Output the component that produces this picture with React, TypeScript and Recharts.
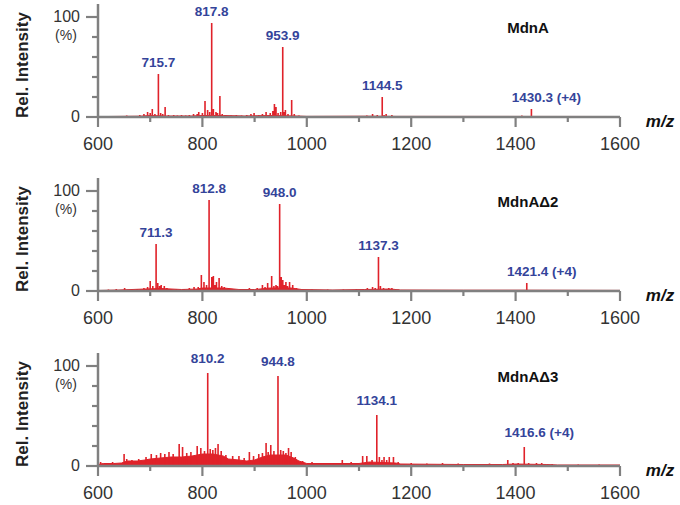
import React from 'react';
import { ComposedChart, Line, Area, Scatter, XAxis, YAxis } from 'recharts';

type Pair = [number, number];

const xTicks = [600, 700, 800, 900, 1000, 1100, 1200, 1300, 1400, 1500, 1600];
const xMajorTicks = [600, 800, 1000, 1200, 1400, 1600];
const yTicks = [0, 20, 40, 60, 80, 100];
const yLabeledTicks = [0, 100];

const panelNames = ['MdnA', 'MdnAΔ2', 'MdnAΔ3'];

// Panel 1 (MdnA)
const p1Peaks: Pair[] = [
  [622, 1], [640, 1], [655, 1.5], [668, 1], [680, 2], [688, 3], [695, 5], [700, 4], [704, 8], [709, 3],
  [715.7, 43], [720, 4], [724, 3], [728.6, 10], [735, 2], [745, 2], [752, 1.5], [760, 2], [768, 1.5],
  [775, 2], [783, 3], [790, 3], [793, 5], [800, 4], [805, 16], [810, 7], [814, 5], [817.8, 94], [821, 8],
  [826, 5], [829, 4], [833.5, 21], [838, 3], [845, 2], [855, 1.5], [865, 2], [875, 1.5], [885, 2],
  [893, 3], [899, 4], [908, 2], [915, 3], [922, 5], [930, 4], [935, 6], [938, 13], [941, 10], [945, 4],
  [950, 5], [953.9, 70], [957, 5], [959, 7], [964, 3], [971, 17], [976, 3], [985, 1.5], [1000, 1],
  [1020, 1], [1050, 1], [1080, 1], [1100, 1], [1115, 1.5], [1126, 3], [1135, 2], [1144.5, 20], [1148, 2],
  [1152, 3], [1163, 2], [1180, 1], [1220, 0.8], [1300, 0.8], [1380, 1], [1412, 1.5], [1430.3, 8],
  [1450, 1], [1500, 0.8],
];
const p1Floor: Pair[] = [
  [600, 0], [620, 0.5], [680, 0.8], [700, 1.5], [730, 1], [780, 1], [800, 1.5], [840, 1.5], [880, 1],
  [930, 1.5], [980, 1], [1000, 0.6], [1120, 0.8], [1170, 0.6], [1600, 0.5],
];
const p1LabelMz = [715.7, 817.8, 953.9, 1144.5, 1430.3];
const p1LabelText = ['715.7', '817.8', '953.9', '1144.5', '1430.3 (+4)'];

// Panel 2 (MdnAΔ2)
const p2Peaks: Pair[] = [
  [620, 1.5], [635, 2], [651, 3], [665, 2], [675, 2], [688, 3], [695, 4], [700, 10], [705, 5], [711.3, 47],
  [714.5, 8], [718, 5], [721, 6], [727, 5], [732, 3], [740, 2], [750, 2], [765, 2], [775, 3], [784, 4],
  [792, 4], [798, 16], [803, 9], [808, 6], [812.8, 91], [818, 14], [821, 15], [824, 6], [827, 9], [832, 13],
  [837, 5], [842, 4], [850, 3], [860, 2], [875, 2], [890, 3], [905, 3], [915, 6], [920, 4], [925, 8],
  [932.7, 15], [937, 5], [941, 6], [944, 5], [948, 87], [951, 14], [954, 11], [957, 6], [960, 9], [963, 5],
  [967, 9], [973, 6], [980, 3], [990, 2], [1010, 1.5], [1040, 1.5], [1070, 1.5], [1095, 2], [1108, 2],
  [1116, 3], [1126, 4], [1131, 3], [1137.3, 34], [1141, 5], [1147, 3], [1152, 2], [1157, 3], [1163, 3],
  [1175, 1.5], [1200, 1], [1260, 1], [1330, 1], [1390, 1], [1421.4, 8], [1460, 1], [1520, 0.8],
];
const p2Floor: Pair[] = [
  [600, 0.5], [640, 1], [690, 2], [720, 2.5], [760, 1.5], [790, 2], [800, 3], [840, 3], [870, 1.5],
  [900, 1.5], [930, 3], [970, 3], [990, 1.5], [1050, 1], [1110, 1.5], [1160, 2], [1180, 1], [1300, 0.8],
  [1420, 0.8], [1600, 0.6],
];
const p2LabelMz = [711.3, 812.8, 948.0, 1137.3, 1421.4];
const p2LabelText = ['711.3', '812.8', '948.0', '1137.3', '1421.4 (+4)'];

// Panel 3 (MdnAΔ3)
const p3Peaks: Pair[] = [
  [605, 4], [615, 3], [628, 4], [650, 12], [655, 7], [665, 6], [678, 7], [692, 9], [702, 12], [712, 11],
  [720, 13], [728, 12], [736, 14], [744, 12], [755.5, 22], [762, 19], [770, 13], [778, 14], [790, 20],
  [797, 18], [804, 15], [810.2, 93], [815, 17], [820, 16], [825, 18], [830, 22], [836, 15], [845, 11],
  [858, 10], [870, 10], [880, 8], [890, 14], [898, 10], [908, 12], [915, 13], [922, 23], [926, 14],
  [931, 21], [937, 15], [944.8, 90], [950, 16], [955, 15], [960, 13], [965, 18], [970, 14], [978, 9],
  [992, 5], [1010, 4], [1030, 3], [1050, 3], [1068, 6], [1085, 4], [1107, 10], [1115, 10], [1125, 6],
  [1134.1, 51], [1139, 9], [1144, 6], [1148, 9], [1153, 6], [1158, 9], [1166, 9], [1175, 4], [1200, 3],
  [1230, 2.5], [1260, 3], [1290, 2.5], [1320, 2], [1350, 2.5], [1385, 6], [1395, 3], [1405, 3],
  [1416.6, 19], [1425, 3], [1440, 3], [1450, 3], [1470, 2], [1520, 1.5], [1560, 1.5],
];
const p3Floor: Pair[] = [
  [600, 1.5], [610, 2.5], [630, 2.5], [645, 3], [656, 5], [675, 5], [690, 6], [700, 7], [720, 8], [740, 9],
  [760, 9], [780, 10], [800, 12], [820, 12], [840, 10], [850, 7], [870, 6], [885, 5], [900, 6], [915, 9],
  [930, 11], [960, 11], [975, 8], [985, 5], [1000, 2.5], [1050, 2.5], [1100, 2.5], [1120, 4], [1170, 3],
  [1180, 2], [1300, 1.5], [1375, 1.5], [1400, 2], [1460, 1.5], [1480, 1], [1600, 1],
];
const p3LabelMz = [810.2, 944.8, 1134.1, 1416.6];
const p3LabelText = ['810.2', '944.8', '1134.1', '1416.6 (+4)'];

const panels = [
  { name: panelNames[0], peaks: p1Peaks, floor: p1Floor, labelMz: p1LabelMz, labelText: p1LabelText, top: 0, labelOff: 12 },
  { name: panelNames[1], peaks: p2Peaks, floor: p2Floor, labelMz: p2LabelMz, labelText: p2LabelText, top: 174, labelOff: 12 },
  { name: panelNames[2], peaks: p3Peaks, floor: p3Floor, labelMz: p3LabelMz, labelText: p3LabelText, top: 349, labelOff: 15 },
];

const RED = '#e0222a';
const BLUE = '#34449a';
const AXIS = '#808080';
const FONT = '"Liberation Sans", Arial, Helvetica, sans-serif';
const W = 680;
const H = 175;

const XTick = (props: any) => {
  const { x, y, payload } = props;
  const major = xMajorTicks.includes(payload.value);
  return (
    <g>
      <line x1={x} y1={y} x2={x} y2={y + (major ? 10 : 5)} stroke={AXIS} strokeWidth={2.2} />
      {major && (
        <text x={x} y={y + 33} textAnchor="middle" fontSize={18} fontFamily={FONT} fill="#333">
          {payload.value}
        </text>
      )}
    </g>
  );
};

const YTick = (props: any) => {
  const { x, y, payload } = props;
  const major = yLabeledTicks.includes(payload.value);
  return (
    <g>
      <line x1={x} y1={y} x2={x - (major ? 12 : 6)} y2={y} stroke={AXIS} strokeWidth={2.2} />
      {major && (
        <text x={x - 18} y={y + 5} textAnchor="end" fontSize={16} fontFamily={FONT} fill="#333">
          {payload.value}
        </text>
      )}
      {payload.value === 100 && (
        <text x={x - 32} y={y + 23} textAnchor="middle" fontSize={14} fontFamily={FONT} fill="#333">
          (%)
        </text>
      )}
    </g>
  );
};

function Panel({ p }: { p: typeof panels[number] }) {
  const stickData = p.peaks.flatMap(([mz, v]) => [
    { mz, v: 0 },
    { mz, v },
    { mz, v: 0 },
  ]);
  const floorData = p.floor.map(([mz, v]) => ({ mz, f: v }));
  const labelData = p.labelMz.map((mz, i) => {
    const pk = p.peaks.find((q) => q[0] === mz);
    return { mz, lv: pk ? pk[1] : 0, text: p.labelText[i] };
  });
  const off = p.labelOff;
  const LabelShape = (sp: any) => {
    const t: string = sp.payload.text;
    const dx = t.includes('(') ? 15 : 0;
    return (
      <text
        x={sp.cx + dx}
        y={sp.cy - off + 5}
        textAnchor="middle"
        fontSize={13.5}
        fontWeight="bold"
        fontFamily={FONT}
        fill={BLUE}
      >
        {t}
      </text>
    );
  };
  return (
    <div style={{ position: 'absolute', left: 0, top: p.top, width: W, height: H }}>
      <ComposedChart width={W} height={H} margin={{ top: 4, right: 60, bottom: 0, left: 0 }}>
        <XAxis
          dataKey="mz"
          type="number"
          domain={[600, 1600]}
          ticks={xTicks}
          interval={0}
          height={58}
          tickSize={0}
          tickMargin={0}
          tickLine={false}
          axisLine={{ stroke: AXIS, strokeWidth: 2.5 }}
          tick={<XTick />}
          allowDuplicatedCategory={false}
        />
        <YAxis
          type="number"
          domain={[0, 113]}
          ticks={yTicks}
          interval={0}
          width={98}
          tickSize={0}
          tickMargin={0}
          tickLine={false}
          axisLine={{ stroke: AXIS, strokeWidth: 2.5 }}
          tick={<YTick />}
        />
        <Area
          data={floorData}
          dataKey="f"
          type="linear"
          stroke={RED}
          strokeWidth={1}
          fill={RED}
          fillOpacity={1}
          isAnimationActive={false}
          dot={false}
          activeDot={false}
        />
        <Line
          data={stickData}
          dataKey="v"
          type="linear"
          stroke={RED}
          strokeWidth={1.6}
          dot={false}
          activeDot={false}
          isAnimationActive={false}
        />
        <Scatter data={labelData} dataKey="lv" shape={LabelShape} isAnimationActive={false} />
      </ComposedChart>
      <svg
        width={W}
        height={H}
        style={{ position: 'absolute', left: 0, top: 0, pointerEvents: 'none' }}
      >
        <text
          x={0}
          y={0}
          transform="translate(22,65) rotate(-90)"
          textAnchor="middle"
          dominantBaseline="central"
          fontSize={17}
          fontWeight="bold"
          fontFamily={FONT}
          fill="#222"
        >
          Rel. Intensity
        </text>
        <text x={528} y={33} textAnchor="middle" fontSize={15} fontWeight="bold" fontFamily={FONT} fill="#111">
          {p.name}
        </text>
        <text
          x={660}
          y={127}
          textAnchor="middle"
          fontSize={17}
          fontWeight="bold"
          fontStyle="italic"
          fontFamily={FONT}
          fill="#111"
        >
          m/z
        </text>
      </svg>
    </div>
  );
}

export default function App() {
  return (
    <div style={{ position: 'absolute', left: 0, top: 0, width: W, height: 505, background: '#fff' }}>
      {panels.map((p) => (
        <Panel key={p.name} p={p} />
      ))}
    </div>
  );
}
